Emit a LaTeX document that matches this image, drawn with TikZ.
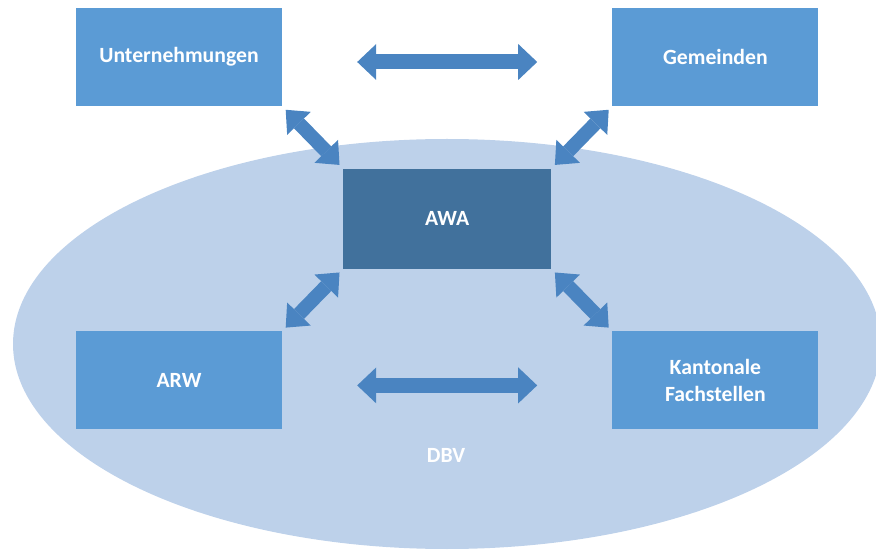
\documentclass[tikz,border=0pt]{standalone}
\usepackage{fontspec}
\setmainfont{Carlito}
\usetikzlibrary{arrows.meta,positioning,calc,shapes.geometric}

\definecolor{boxblue}{HTML}{5B9BD5}
\definecolor{awablue}{HTML}{41719C}
\definecolor{areablue}{HTML}{BDD1EA}
\definecolor{arrowblue}{HTML}{4A84C1}

\tikzset{
  unit/.style={fill=boxblue, text=white, font=\bfseries\fontsize{21.7}{26.5}\selectfont,
    minimum width=206pt, minimum height=98pt, inner sep=0pt, align=center},
  biarrow/.style={draw=arrowblue, line width=15pt,
    {Triangle[width=36pt,length=19pt,line width=0pt]}-{Triangle[width=36pt,length=19pt,line width=0pt]},
    shorten <=75pt, shorten >=75pt},
  diagarrow/.style={draw=arrowblue, line width=14pt,
    {Triangle[width=33pt,length=19pt,line width=0pt]}-{Triangle[width=33pt,length=19pt,line width=0pt]},
    shorten <=5pt, shorten >=5pt}
}

\begin{document}
\begin{tikzpicture}[x=1pt, y=1pt]
  \useasboundingbox (0,0) rectangle (876,-553);

  % DBV area
  \node[ellipse, fill=areablue, inner sep=0pt, minimum width=868pt, minimum height=410pt] (area) at (447,-344) {};

  \node[unit] (unt) at (179,-57) {Unternehmungen};
  \node[unit, right=330pt of unt] (gem) {Gemeinden};
  \node[unit, below=225pt of unt] (arw) {ARW};
  \node[unit, right=330pt of arw] (kant) {Kantonale\\Fachstellen};
  \node[unit, fill=awablue, minimum width=208pt, minimum height=100pt] (awa) at ($(unt)!0.5!(kant)$) {AWA};
  \node[text=white, font=\bfseries\fontsize{21.7}{26.5}\selectfont] (dbv) at (446,-455) {DBV};

  \draw[biarrow] ([yshift=-5pt]unt.east) -- ([yshift=-5pt]gem.west);
  \draw[biarrow] ([yshift=-5pt]arw.east) -- ([yshift=-5pt]kant.west);
  \draw[diagarrow] (unt.south east) -- (awa.north west);
  \draw[diagarrow] (gem.south west) -- (awa.north east);
  \draw[diagarrow] (arw.north east) -- (awa.south west);
  \draw[diagarrow] (kant.north west) -- (awa.south east);
\end{tikzpicture}
\end{document}
